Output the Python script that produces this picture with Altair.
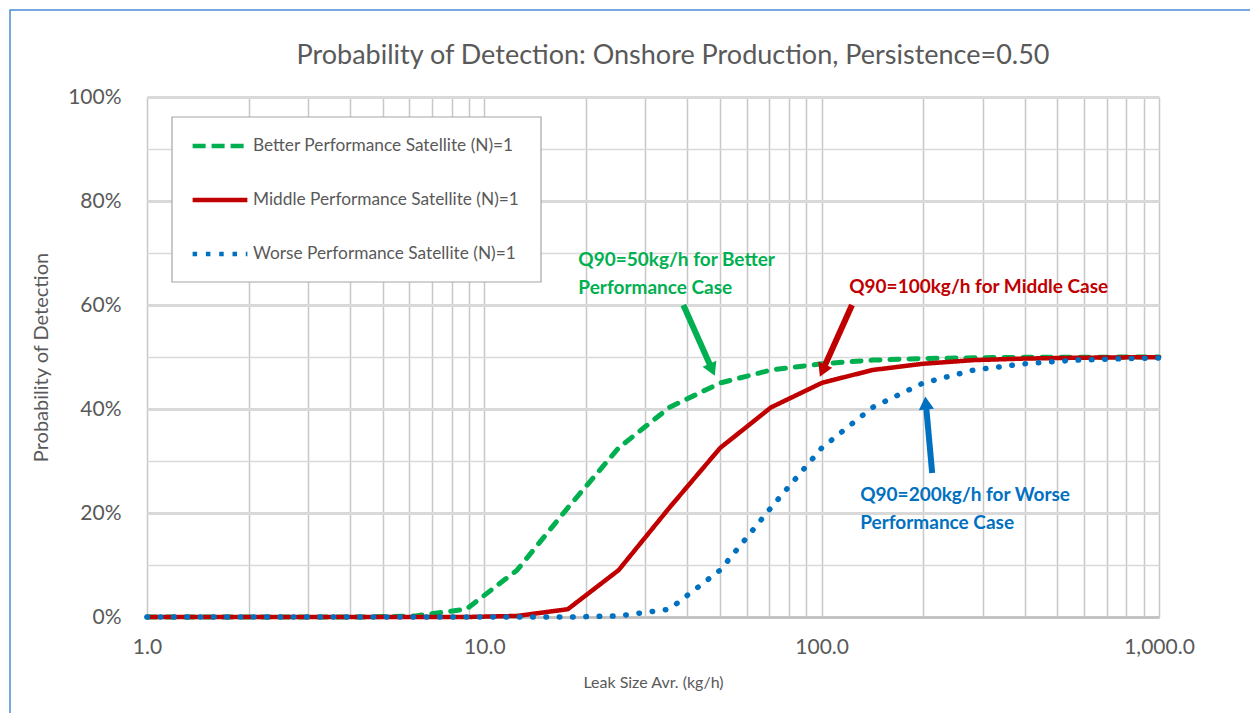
import math

import altair as alt
import pandas as pd

# Leak sizes (kg/h) and probability of detection for each satellite case
leak_kgh = [1.0, 1.105, 1.5625, 2.2097, 3.125, 4.4194, 6.25, 8.8388, 12.5, 17.678,
            25.0, 35.355, 50.0, 70.711, 100.0, 141.42, 200.0, 282.84, 400.0,
            565.69, 800.0, 1000.0]
better_pod = [0.0, 0.0, 0.0, 0.0, 0.0, 0.0, 0.002, 0.015, 0.09, 0.21,
              0.325, 0.403, 0.45, 0.475, 0.487, 0.494, 0.497, 0.4985, 0.4993,
              0.4996, 0.4998, 0.4999]
middle_pod = [0.0, 0.0, 0.0, 0.0, 0.0, 0.0, 0.0, 0.0, 0.002, 0.015,
              0.09, 0.21, 0.325, 0.403, 0.45, 0.475, 0.487, 0.494, 0.497,
              0.4985, 0.4993, 0.4996]
worse_pod = [0.0, 0.0, 0.0, 0.0, 0.0, 0.0, 0.0, 0.0, 0.0, 0.0,
             0.002, 0.015, 0.09, 0.21, 0.325, 0.403, 0.45, 0.475, 0.487,
             0.494, 0.497, 0.4982]
series_names = ["Better Performance Satellite (N)=1",
                "Middle Performance Satellite (N)=1",
                "Worse Performance Satellite (N)=1"]
series_colors = ["#00b050", "#c00000", "#0070c0"]
series_dash = [[9, 10], [1, 0], [0.5, 12.8]]      # dashes drawn with round caps
legend_dash = [[13, 6], [1, 0], [4.5, 8.8]]       # legend symbols use butt caps
series_width = [5, 4.5, 5.5]

# Callout labels: one row per text line
note_text = ["Q90=50kg/h for Better", "Performance Case",
             "Q90=100kg/h for Middle Case",
             "Q90=200kg/h for Worse", "Performance Case"]
note_x = [19.0, 19.0, 120.7, 130.1, 130.1]
note_y = [0.686, 0.632, 0.634, 0.234, 0.181]
note_color = ["#00b050", "#00b050", "#c00000", "#0070c0", "#0070c0"]

# Callout arrows: tail -> tip, in data units
arrow_tail_x = [38.9, 123.0, 212.6]
arrow_tail_y = [0.600, 0.600, 0.277]
arrow_tip_x = [48.4, 98.4, 202.6]
arrow_tip_y = [0.4615, 0.4596, 0.427]
arrow_color = ["#00b050", "#c00000", "#0070c0"]

FONT = "Lato"
GRAY = "#595959"
W, H = 1012, 520
X_DOMAIN = [1, 1000]

notes = pd.DataFrame({"x": note_x, "y": note_y, "text": note_text, "c": note_color})


def to_px(x, y):
    lo, hi = math.log10(X_DOMAIN[0]), math.log10(X_DOMAIN[1])
    return (math.log10(x) - lo) / (hi - lo) * W, (1 - y) * H


def to_data(px, py):
    lo, hi = math.log10(X_DOMAIN[0]), math.log10(X_DOMAIN[1])
    return 10 ** (lo + px / W * (hi - lo)), 1 - py / H


HEAD = 16
shafts, heads = [], []
for tx, ty, hx, hy, c in zip(arrow_tail_x, arrow_tail_y, arrow_tip_x, arrow_tip_y, arrow_color):
    ax, ay = to_px(tx, ty)
    bx, by = to_px(hx, hy)
    L = math.hypot(bx - ax, by - ay)
    ux, uy = (bx - ax) / L, (by - ay) / L
    sx, sy = to_data(bx - ux * HEAD * 0.8, by - uy * HEAD * 0.8)
    cx, cy = to_data(bx - ux * HEAD * 0.5, by - uy * HEAD * 0.5)
    ang = math.degrees(math.atan2(ux, -uy)) % 360
    shafts.append({"x": tx, "y": ty, "x2": sx, "y2": sy, "c": c})
    heads.append({"x": cx, "y": cy, "a": ang, "c": c})
shafts = pd.DataFrame(shafts)
heads = pd.DataFrame(heads)

x_scale = alt.Scale(type="log", domain=X_DOMAIN)
y_scale = alt.Scale(domain=[0, 1])
x_ticks = [m * 10 ** e for e in range(3) for m in range(1, 10)] + [1000]
y_ticks = [i / 20 for i in range(21)]

x_axis = alt.Axis(
    values=x_ticks,
    labelExpr="indexof([1, 10, 100, 1000], datum.value) >= 0 ? format(datum.value, ',.1f') : ''",
    title="Leak Size Avr. (kg/h)",
    titleFont=FONT, titleFontSize=16, titleFontWeight="normal", titleColor=GRAY,
    titlePadding=17,
    labelFont=FONT, labelFontSize=21, labelColor=GRAY, labelPadding=19,
    labelFlush=False,
    ticks=False, grid=True, gridColor="#c8c8c8", gridWidth=1.5,
    domain=True, domainColor="#bfbfbf", domainWidth=2.5,
    labelOverlap=False,
)
y_axis = alt.Axis(
    values=y_ticks,
    labelExpr="round(datum.value * 100) % 20 == 0 ? format(datum.value, '.0%') : ''",
    title="Probability of Detection",
    titleFont=FONT, titleFontSize=20, titleFontWeight="normal", titleColor=GRAY,
    titlePadding=16,
    labelFont=FONT, labelFontSize=21, labelColor=GRAY, labelPadding=26,
    labelFlush=False,
    ticks=False, grid=True, gridColor="#d9d9d9",
    gridWidth={"condition": {"test": "round(datum.value * 100) % 20 == 0", "value": 3}, "value": 1.5},
    domain=False, labelOverlap=False,
)

legend = alt.Legend(
    title=None, orient="none", legendX=43, legendY=19, direction="vertical",
    symbolType="stroke", symbolSize=3000, symbolStrokeWidth=4.5,
    labelFont=FONT, labelFontSize=17.3, labelColor=GRAY, labelOffset=3, labelLimit=400,
    padding=0, rowPadding=15,
)

# Legend box (white panel behind the legend entries)
legend_box = alt.Chart(pd.DataFrame({"k": [0]})).mark_rect(
    fill="white", stroke="#a6a6a6", strokeWidth=1.2
).encode(
    x=alt.value(25), x2=alt.value(394), y=alt.value(20), y2=alt.value(185),
)

# Empty line layer that only carries the legend
legend_rows = pd.DataFrame({"leak": [None] * 3, "pod": [None] * 3, "series": series_names})
legend_layer = alt.Chart(legend_rows).mark_line().encode(
    x=alt.X("leak:Q", scale=x_scale, axis=x_axis),
    y=alt.Y("pod:Q", scale=y_scale, axis=y_axis),
    color=alt.Color("series:N", scale=alt.Scale(domain=series_names, range=series_colors), legend=legend),
    strokeDash=alt.StrokeDash("series:N", scale=alt.Scale(domain=series_names, range=legend_dash), legend=legend),
)

# One layer per curve, drawn green -> red -> blue
curve_layers = []
for name, vals, col, dash, wd in zip(series_names, [better_pod, middle_pod, worse_pod],
                                     series_colors, series_dash, series_width):
    df = pd.DataFrame({"leak": leak_kgh, "pod": vals})
    curve_layers.append(
        alt.Chart(df).mark_line(
            color=col, strokeDash=dash, strokeWidth=wd, strokeCap="round", strokeJoin="round"
        ).encode(
            x=alt.X("leak:Q", scale=x_scale),
            y=alt.Y("pod:Q", scale=y_scale),
        )
    )

note_marks = alt.Chart(notes).mark_text(
    font=FONT, fontSize=19, fontWeight="bold", align="left", baseline="middle"
).encode(
    x=alt.X("x:Q", scale=x_scale),
    y=alt.Y("y:Q", scale=y_scale),
    text="text:N",
    color=alt.Color("c:N", scale=None),
)

shaft_marks = alt.Chart(shafts).mark_rule(strokeWidth=6).encode(
    x=alt.X("x:Q", scale=x_scale), y=alt.Y("y:Q", scale=y_scale),
    x2="x2:Q", y2="y2:Q",
    color=alt.Color("c:N", scale=None),
)

head_marks = alt.Chart(heads).mark_point(
    shape="triangle-up", filled=True, size=230, opacity=1
).encode(
    x=alt.X("x:Q", scale=x_scale), y=alt.Y("y:Q", scale=y_scale),
    angle=alt.Angle("a:Q", scale=None),
    color=alt.Color("c:N", scale=None),
)

# Outer frame around the whole figure
frame = alt.Chart(pd.DataFrame({"k": [0]})).mark_rect(
    fill="transparent", stroke="#4a8fd4", strokeWidth=1.5
).encode(
    x=alt.value(-137), y=alt.value(-87), x2=alt.value(W + 200), y2=alt.value(H + 200),
)

chart = alt.layer(
    legend_layer, legend_box, *curve_layers, shaft_marks, head_marks, note_marks, frame
).properties(
    width=W, height=H,
    title=alt.TitleParams(
        "Probability of Detection: Onshore Production, Persistence=0.50",
        font=FONT, fontSize=27, fontWeight="normal", color=GRAY,
        anchor="middle", baseline="alphabetic", offset=0, dy=82, dx=20,
    ),
    padding={"left": 147, "top": 97, "right": 91, "bottom": 96},
    autosize=alt.AutoSizeParams(type="none"),
    background="white",
).configure_view(stroke=None)

chart.save("out.html", embed_options={"renderer": "svg", "actions": False})
